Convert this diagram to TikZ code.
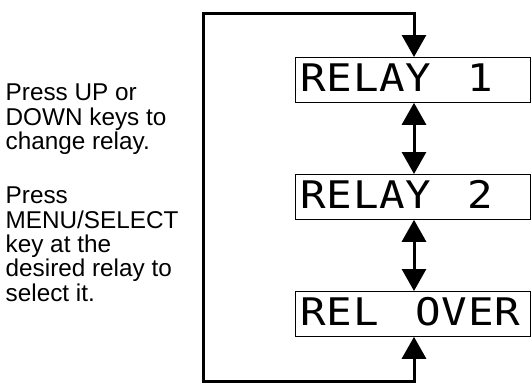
\documentclass[tikz,border=0pt]{standalone}
\usepackage{fontspec}
\setmainfont{Liberation Sans}
\newfontfamily\lcdfont[FakeStretch=1.12]{DejaVu Sans Mono}
\newcommand\lcdc[1]{\makebox[26.25pt][c]{#1}}
\usetikzlibrary{arrows.meta}
\begin{document}
\begin{tikzpicture}[x=1pt,y=-1pt,
  lcdbox/.style={draw, line width=0.8pt, minimum width=235pt, minimum height=45pt,
    anchor=north west, inner xsep=4.9pt, inner ysep=0pt, text width=225.2pt, align=left,
    text height=28pt, text depth=5pt,
    font=\lcdfont\fontsize{38}{38}\selectfont},
  flow/.style={line width=3pt, >={Triangle[width=24pt,length=22pt]}},
  note/.style={anchor=north west, align=left, inner sep=0pt,
    font=\fontsize{24.3}{24.3}\selectfont}]
\useasboundingbox (0,0) rectangle (531,383);
\node[lcdbox] (r1) at (295,57) {\lcdc{R}\lcdc{E}\lcdc{L}\lcdc{A}\lcdc{Y}\hspace{35.8pt}\lcdc{1}};
\node[lcdbox] (r2) at (295,174) {\lcdc{R}\lcdc{E}\lcdc{L}\lcdc{A}\lcdc{Y}\hspace{35.8pt}\lcdc{2}};
\node[lcdbox] (r3) at (295,291) {\lcdc{R}\lcdc{E}\lcdc{L}\hspace{36.2pt}\lcdc{O}\lcdc{V}\lcdc{E}\lcdc{R}};
\coordinate (ax) at (414,0);
\coordinate (tl) at (203,13);
\coordinate (bl) at (203,381.5);
\draw[flow,<->] (ax |- r1.south) -- (ax |- r2.north);
\draw[flow,<->] (ax |- r2.south) -- (ax |- r3.north);
\draw[flow,<->] (ax |- r3.south) -- (ax |- bl) -- (bl) -- (tl) -- (ax |- tl) -- (ax |- r1.north);
\node[note] (t1) at (5.5,84) {Press UP or\\DOWN keys to\\change relay.};
\node[note] (t2) at (5.5,187) {Press\\MENU/SELECT\\key at the\\desired relay to\\select it.};
\end{tikzpicture}
\end{document}
